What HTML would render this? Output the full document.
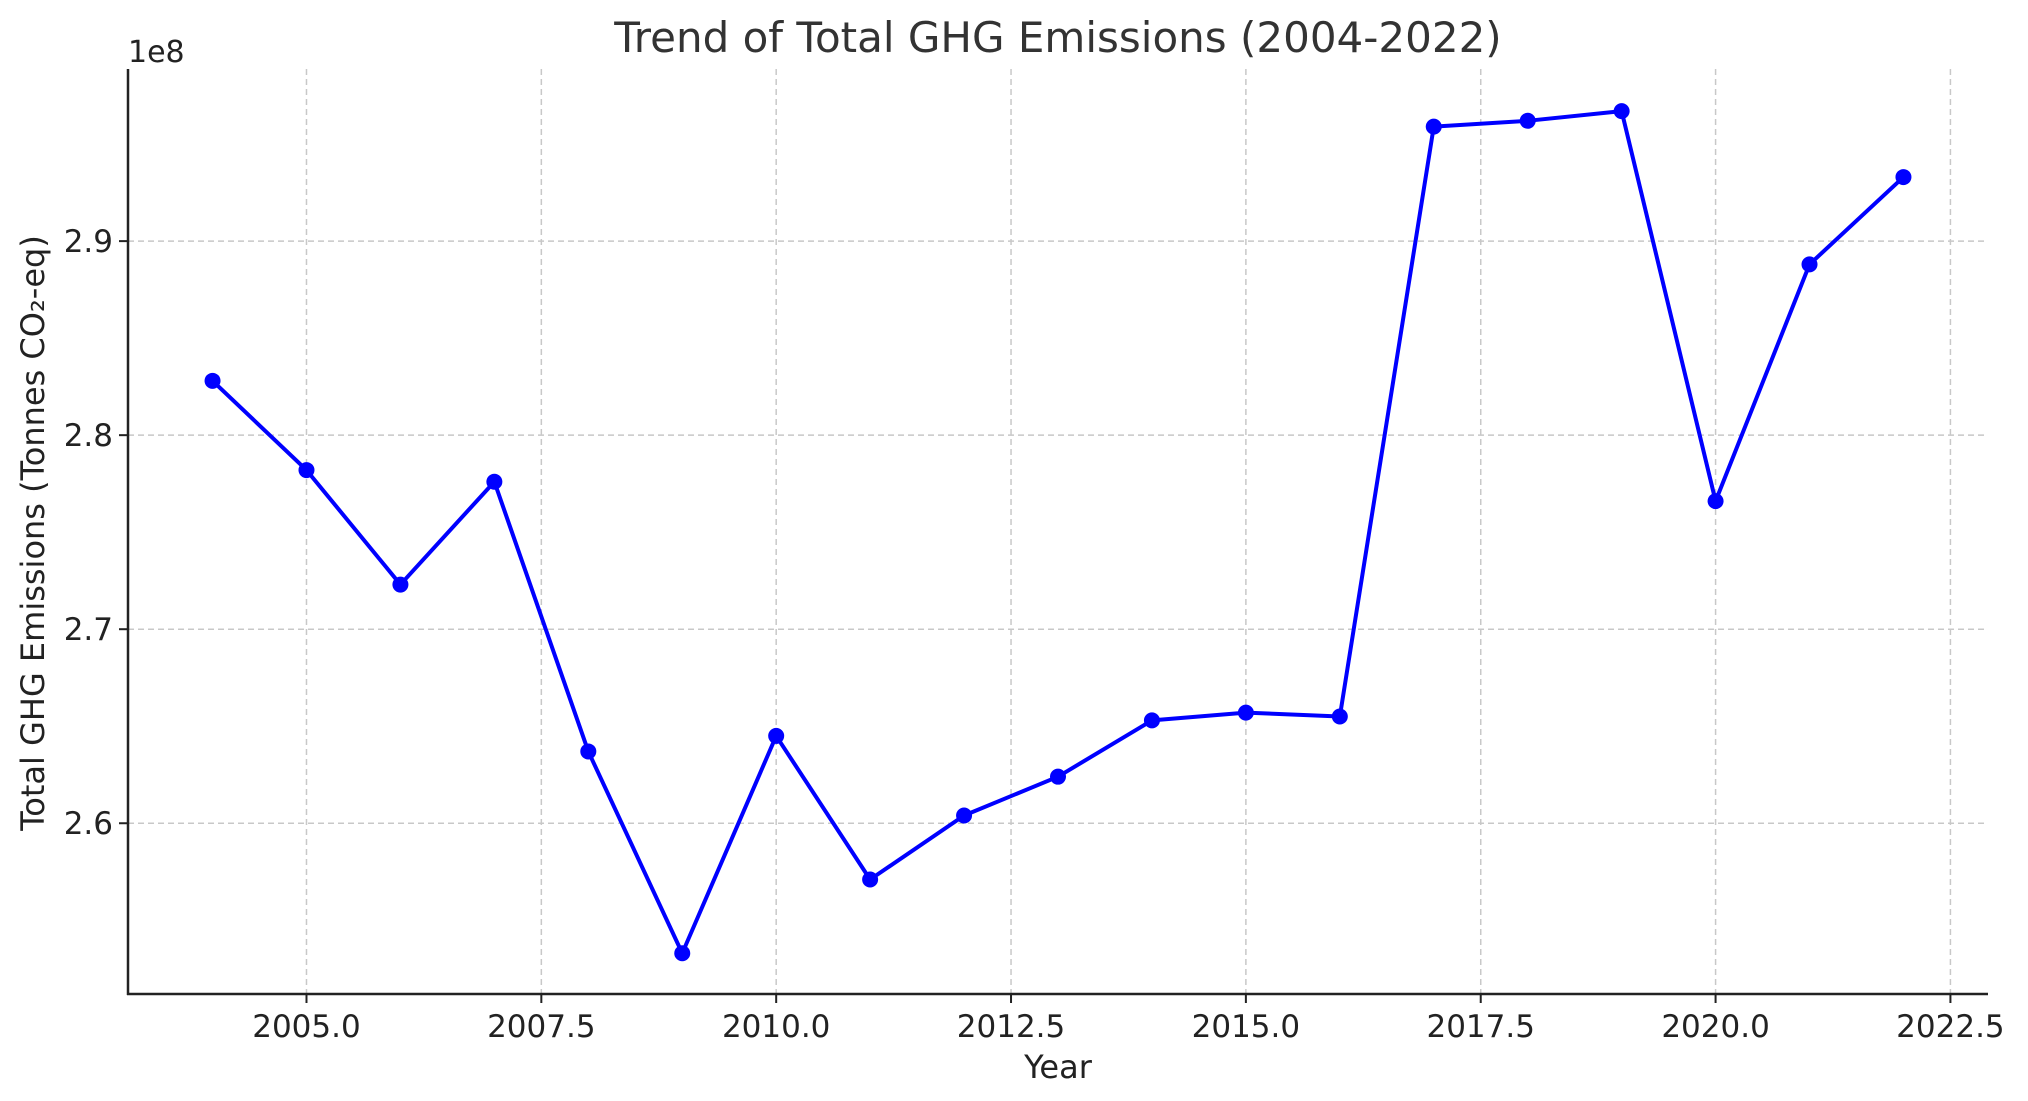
<!DOCTYPE html>
<html><head><meta charset="utf-8"><style>
body{margin:0;background:#fff}
svg{display:block;font-family:"DejaVu Sans","Liberation Sans",sans-serif}
</style></head><body>
<svg id="chart" width="2028" height="1101" viewBox="0 0 2028 1101" xmlns="http://www.w3.org/2000/svg">
<g id="grid"></g>
<g id="axes"></g>
<g id="series"></g>
<text x="1058" y="52" text-anchor="middle" font-size="42" fill="#333">Trend of Total GHG Emissions (2004-2022)</text>
<text x="1058" y="1078" text-anchor="middle" font-size="32" fill="#222">Year</text>
<text transform="translate(44,533) rotate(-90)" text-anchor="middle" font-size="32" fill="#222">Total GHG Emissions (Tonnes CO₂-eq)</text>
<text x="128" y="62" font-size="30" fill="#222">1e8</text>
</svg>
<script>
const years = [2004,2005,2006,2007,2008,2009,2010,2011,2012,2013,2014,2015,2016,2017,2018,2019,2020,2021,2022];
const emissions = [2.828,2.782,2.723,2.776,2.637,2.533,2.645,2.571,2.604,2.624,2.653,2.657,2.655,2.959,2.962,2.967,2.766,2.888,2.933];
const xTicks = [2005,2007.5,2010,2012.5,2015,2017.5,2020,2022.5];
const xTickLabels = ["2005.0","2007.5","2010.0","2012.5","2015.0","2017.5","2020.0","2022.5"];
const yTicks = [2.6,2.7,2.8,2.9];
const yTickLabels = ["2.6","2.7","2.8","2.9"];

const L=128,R=1988,T=69,B=994;
const xMin=2003.1,xMax=2022.9,yMin=2.512,yMax=2.9887;
const X=v=>L+(v-xMin)/(xMax-xMin)*(R-L);
const Y=v=>B-(v-yMin)/(yMax-yMin)*(B-T);
const NS="http://www.w3.org/2000/svg";
function mk(tag,attrs,parent){const e=document.createElementNS(NS,tag);for(const k in attrs)e.setAttribute(k,attrs[k]);parent.appendChild(e);return e;}
const grid=document.getElementById('grid'),axes=document.getElementById('axes'),series=document.getElementById('series');

xTicks.forEach((t,i)=>{
  const x=X(t);
  const g=mk('line',{x1:x,x2:x,y1:T,y2:B,stroke:'#c8c8c8','stroke-width':1.5,'stroke-dasharray':'6,4'},grid);
  
  
  const tk=mk('line',{x1:x,x2:x,y1:B,y2:B+9,stroke:'#222','stroke-width':2},axes);
  
  
  const lb=mk('text',{x:x,y:B+43,'text-anchor':'middle','font-size':31,fill:'#222'},axes);
  lb.textContent=xTickLabels[i];
  
  
});
yTicks.forEach((t,i)=>{
  const y=Y(t);
  const g=mk('line',{x1:L,x2:R,y1:y,y2:y,stroke:'#c8c8c8','stroke-width':1.5,'stroke-dasharray':'6,4'},grid);
  
  
  const tk=mk('line',{x1:L-9,x2:L,y1:y,y2:y,stroke:'#222','stroke-width':2},axes);
  
  
  const lb=mk('text',{x:L-15,y:y+11,'text-anchor':'end','font-size':31,fill:'#222'},axes);
  lb.textContent=yTickLabels[i];
  
  
});
const ax1=mk('line',{x1:L,x2:L,y1:T,y2:B+1,stroke:'#222','stroke-width':2.5},axes);


const ax2=mk('line',{x1:L-1,x2:R,y1:B,y2:B,stroke:'#222','stroke-width':2.5},axes);



const pts=years.map((yr,i)=>X(yr)+','+Y(emissions[i])).join(' ');
const pl=mk('polyline',{points:pts,fill:'none',stroke:'#0000ff','stroke-width':4,'stroke-linejoin':'round'},series);


years.forEach((yr,i)=>{
  const c=mk('circle',{cx:X(yr),cy:Y(emissions[i]),r:8,fill:'#0000ff'},series);
  
  
});
</script>
</body></html>
